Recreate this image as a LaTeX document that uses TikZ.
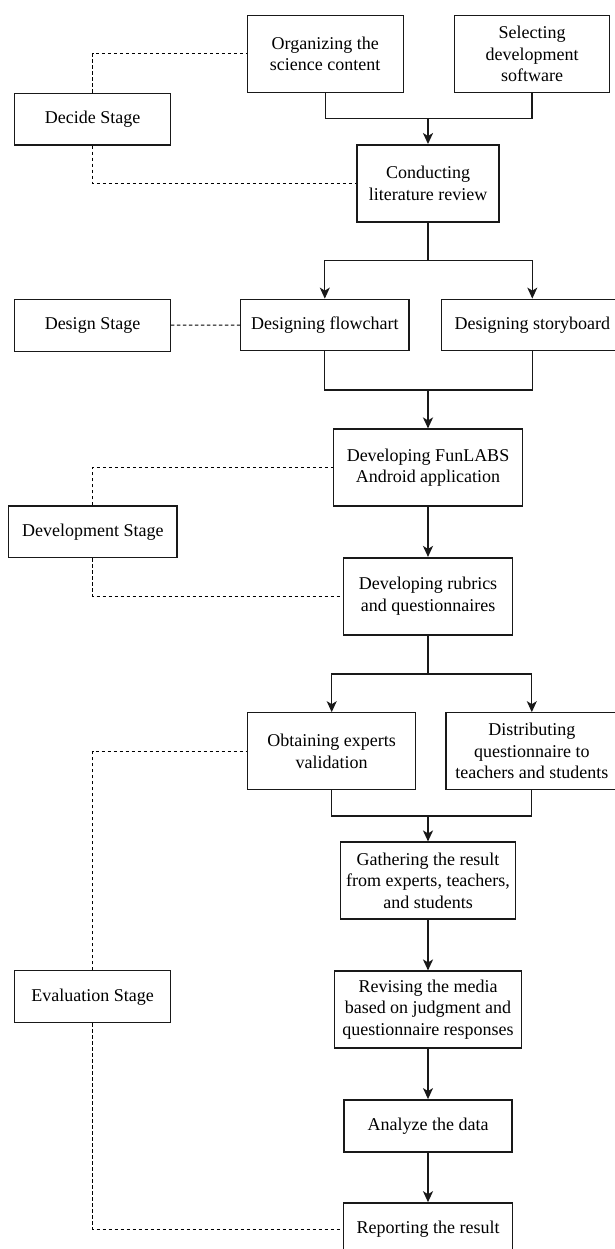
\documentclass[tikz,border=0pt]{standalone}
\usepackage{fontspec}
\setmainfont{Liberation Serif}
\usepackage{tikz}
\usetikzlibrary{arrows.meta}

\begin{document}
\begin{tikzpicture}[x=1pt,y=1pt,yscale=-1,xscale=1,
  stepbox/.style={draw=black!90, line width=1.1pt, align=center, inner sep=0pt, minimum height=77pt, font=\fontsize{18}{21.6}\selectfont},
  stagebox/.style={stepbox, minimum height=51.7pt},
  boldbox/.style={line width=1.9pt},
  flow/.style={draw=black!90, line width=1.1pt},
  mainflow/.style={line width=2.2pt},
  tip/.style={-{Stealth[length=11pt,width=10pt,inset=3pt]}},
  link/.style={draw=black, line width=1pt, dash pattern=on 3.5pt off 2.5pt}]

\useasboundingbox (0,0) rectangle (614,1249);

\node[stagebox, minimum width=156pt] (decide) at (92.7,119.2) {Decide Stage};
\node[stepbox, minimum width=155.7pt] (organize) at (325.2,54) {Organizing the\\science content};
\node[stepbox, minimum width=155.4pt] (select) at (532,54) {Selecting\\development\\software};
\node[stepbox, boldbox, minimum width=142.3pt] (review) at (428,183.5) {Conducting\\literature review};

\node[stagebox, minimum width=155.6pt] (design) at (92.5,325.2) {Design Stage};
\node[stagebox, minimum width=168.3pt] (flowchart) at (324.8,325) {Designing flowchart};
\node[stagebox, minimum width=182pt] (storyboard) at (532.3,325) {Designing storyboard};

\node[stepbox, minimum width=188.4pt] (app) at (428,467.5) {Developing FunLABS\\Android application};
\node[stagebox, minimum width=168.4pt] (develop) at (92.8,531.8) {Development Stage};
\node[stepbox, boldbox, minimum width=169pt] (rubrics) at (428,596.4) {Developing rubrics\\and questionnaires};

\node[stepbox, minimum width=168.4pt] (experts) at (331.7,751.2) {Obtaining experts\\validation};
\node[stepbox, minimum width=171.6pt] (distribute) at (531.8,751.2) {Distributing\\questionnaire to\\teachers and students};
\node[stepbox, minimum width=175.4pt] (gather) at (428,880.5) {Gathering the result\\from experts, teachers,\\and students};
\node[stagebox, minimum width=155.4pt] (evaluate) at (92.6,996.7) {Evaluation Stage};
\node[stepbox, minimum width=187.2pt] (revise) at (428,1009.5) {Revising the media\\based on judgment and\\questionnaire responses};
\node[stagebox, boldbox, minimum width=168.8pt] (analyze) at (428,1125.9) {Analyze the data};
\node[stagebox, boldbox, minimum width=169pt] (report) at (428,1229) {Reporting the result};

\coordinate (j1) at (review.north |- 0,118.3);
\coordinate (j2) at (review.south |- 0,260.7);
\coordinate (j3) at (app.north |- 0,390);
\coordinate (j4) at (rubrics.south |- 0,674);
\coordinate (j5) at (gather.north |- 0,816);

\draw[flow] (organize.south) |- (j1) -| (select.south);
\draw[flow,mainflow,tip] (j1) -- (review.north);
\draw[flow,mainflow] (review.south) -- (j2);
\draw[flow,tip] (j2) -| (flowchart.north);
\draw[flow,tip] (j2) -| (storyboard.north);
\draw[flow] (flowchart.south) |- (j3) -| (storyboard.south);
\draw[flow,mainflow,tip] (j3) -- (app.north);
\draw[flow,mainflow,tip] (app.south) -- (rubrics.north);
\draw[flow,mainflow] (rubrics.south) -- (j4);
\draw[flow,tip] (j4) -| (experts.north);
\draw[flow,tip] (j4) -| (distribute.north);
\draw[flow] (experts.south) |- (j5) -| (distribute.south);
\draw[flow,mainflow,tip] (j5) -- (gather.north);
\draw[flow,mainflow,tip] (gather.south) -- (revise.north);
\draw[flow,tip] (revise.south) -- (analyze.north);
\draw[flow,mainflow,tip] (analyze.south) -- (report.north);

\draw[link] (decide.north) |- (organize.west);
\draw[link] (decide.south) |- (review.west);
\draw[link] (design.east) -- (flowchart.west);
\draw[link] (develop.north) |- (app.west);
\draw[link] (develop.south) |- (rubrics.west);
\draw[link] (evaluate.north) |- (experts.west);
\draw[link] (evaluate.south) |- (report.west);
\end{tikzpicture}
\end{document}
